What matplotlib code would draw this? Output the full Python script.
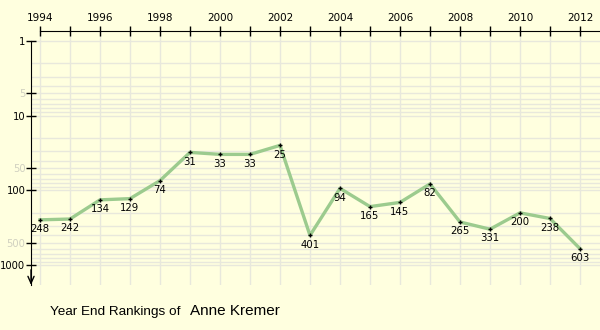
import matplotlib.pyplot as plt
import numpy as np
from matplotlib.ticker import FixedLocator, NullFormatter

years = list(range(1994, 2013))
ranks = [248, 242, 134, 129, 74, 31, 33, 33, 25, 401, 94, 165, 145, 82, 265, 331, 200, 238, 603]
player = 'Anne Kremer'

y_major = [1, 5, 10, 50, 100, 500, 1000]
y_minor = [m * 10 ** d for d in range(0, 3) for m in (2, 3, 4, 6, 7, 8, 9)]

bg = '#ffffdf'
grid_col = '#e8e8dc'

fig = plt.figure(figsize=(6, 3.3), dpi=100, facecolor=bg)
ax = fig.add_axes([31 / 600, 45 / 330, 569 / 600, 254 / 330], facecolor=bg)

ax.set_yscale('log')
ax.set_xlim(1993.7, 2012.667)
ax.set_ylim(1848, 0.736)

# grid: each year vertically, every log step horizontally
ax.yaxis.set_major_locator(FixedLocator(y_major))
ax.yaxis.set_minor_locator(FixedLocator(y_minor))
ax.yaxis.set_minor_formatter(NullFormatter())
ax.set_yticklabels([str(v) for v in y_major])
ax.xaxis.set_major_locator(FixedLocator(years[::2]))
ax.xaxis.set_minor_locator(FixedLocator(years[1::2]))
ax.grid(True, which='both', color=grid_col, lw=1)
ax.set_axisbelow(True)

ax.xaxis.tick_top()
ax.tick_params(axis='x', which='major', direction='inout', length=7, width=1,
               labelsize=7.5, pad=2)
ax.tick_params(axis='x', which='minor', direction='inout', length=7, width=1)
ax.tick_params(axis='y', which='major', direction='inout', length=7, width=1,
               labelsize=7.2, pad=0.5)
ax.tick_params(axis='y', which='minor', length=0)

# halves of each decade are shown faintly
for tick, val in zip(ax.yaxis.get_major_ticks(), y_major):
    if str(val).startswith('5'):
        tick.tick1line.set_color('#d8d8c8')
        tick.label1.set_color('#d0d0c0')

for side in ('right', 'bottom'):
    ax.spines[side].set_visible(False)
ax.spines['top'].set_bounds(1994, 2012.667)
ax.spines['left'].set_bounds(1, 1848)

ax.annotate('', xy=(0, 0), xycoords='axes fraction', xytext=(0, 0.06),
            arrowprops=dict(arrowstyle='->,head_length=0.5,head_width=0.22',
                            lw=1, color='black', shrinkA=0, shrinkB=0))

ax.plot(years, ranks, color='#9ccb8e', lw=2.4, solid_joinstyle='round', zorder=3)
ax.plot(years, ranks, ls='none', marker='+', ms=3, mew=1, color='black', zorder=4)

for yr, r in zip(years, ranks):
    ax.annotate(str(r), (yr, r), xytext=(0, -3), textcoords='offset points',
                ha='center', va='top', fontsize=7.3, zorder=5)

fig.text(50 / 600, 1 - 315 / 330, 'Year End Rankings of', fontsize=9.7,
         family='Liberation Sans', va='baseline', ha='left')
fig.text(190 / 600, 1 - 315 / 330, player, fontsize=11,
         family='Liberation Sans', va='baseline', ha='left')

fig.savefig('out.png', dpi=100, facecolor=bg)
